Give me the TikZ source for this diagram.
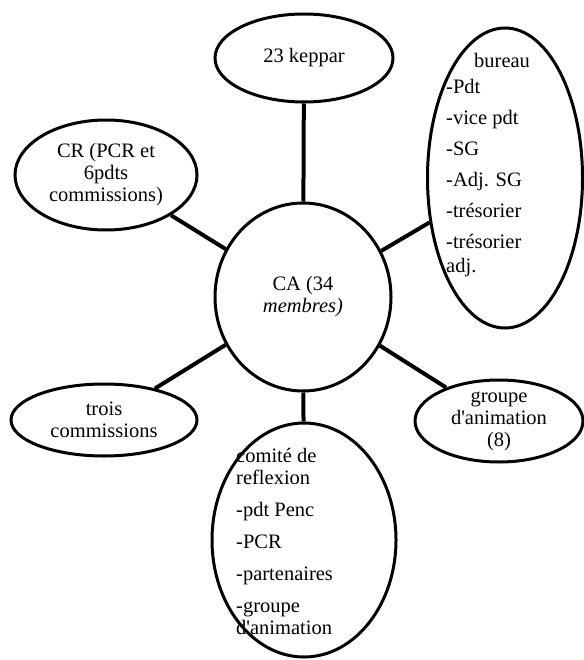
\documentclass[tikz,border=0pt]{standalone}
\usepackage{fontspec}
\setmainfont{Liberation Serif}
\usetikzlibrary{shapes.geometric}

\begin{document}
\begin{tikzpicture}[
  x=1pt,
  y=-1pt,
  bubble/.style={
    ellipse,
    draw,
    fill=white,
    line width=3pt,
    inner sep=0pt,
    align=center,
    font=\fontsize{20.5}{22}\selectfont
  },
  conn/.style={
    line width=4pt
  },
  listtxt/.style={
    inner sep=0pt,
    anchor=west,
    align=left,
    font=\fontsize{20.5}{22}\selectfont
  }
]
\useasboundingbox (0,0) rectangle (583,660);
\coordinate (cac) at (303,297);
\coordinate (kepc) at (304,58);
\coordinate (crc) at (106,175);
\coordinate (burc) at (505,178);
\coordinate (troc) at (104,420);
\coordinate (groc) at (499,421);
\coordinate (comc) at (304,540);
\node[bubble,minimum width=176pt,minimum height=188pt] (ca) at (cac) {CA (34\\\textit{membres)}};
\node[bubble,minimum width=178pt,minimum height=88pt] (keppar) at (kepc) {23 keppar};
\node[bubble,minimum width=182pt,minimum height=110pt] (cr) at (crc) {CR (PCR et\\6pdts\\commissions)};
\node[bubble,minimum width=155pt,minimum height=300pt] (bureau) at (burc) {};
\node[bubble,minimum width=186pt,minimum height=72pt] (trois) at (troc) {trois\\commissions};
\node[bubble,inner sep=-4pt,minimum width=168pt,minimum height=82pt] (groupe) at (groc) {groupe\\d\textquotesingle animation\\(8)};
\node[bubble,minimum width=184pt,minimum height=234pt] (comite) at (comc) {};
\draw[conn] (ca) -- (keppar);
\draw[conn] (ca) -- (cr);
\draw[conn] (ca) -- (bureau);
\draw[conn] (ca) -- (trois);
\draw[conn] (ca) -- (groupe);
\draw[conn] (ca) -- (comite);
% list texts run over the ellipse borders
\node[listtxt,font=\fontsize{20.5}{24}\selectfont] (bureautxt) at (446,165) {\hspace*{28pt}bureau\\[2pt]
  -Pdt\\[7pt]
  -vice pdt\\[7pt]
  -SG\\[7pt]
  -Adj. SG\\[7pt]
  -trésorier\\[7pt]
  -trésorier\\adj.};
\node[listtxt] (comitetxt) at (236,541) {comité de\\reflexion\\[10pt]
  -pdt Penc\\[10pt]
  -PCR\\[10pt]
  -partenaires\\[10pt]
  -groupe\\d\textquotesingle animation};
\end{tikzpicture}
\end{document}
